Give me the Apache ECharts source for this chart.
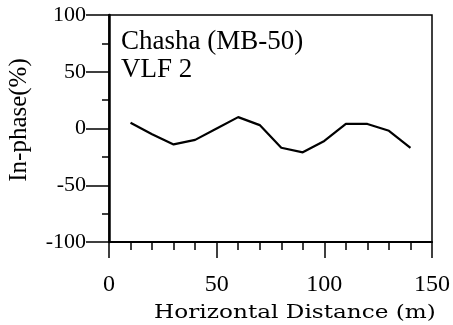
<!DOCTYPE html>
<html>
<head>
<meta charset="utf-8">
<script src="https://cdn.jsdelivr.net/npm/echarts@6/dist/echarts.min.js"></script>
<style>
  html, body { margin: 0; padding: 0; background: #fff; }
  #chart { width: 453px; height: 325px; }
</style>
</head>
<body>
<div id="chart"></div>
<script>
// VLF in-phase profile along the traverse
const distances = [10, 20, 30, 40, 50, 60, 70, 80, 90, 100, 110, 120, 130, 140];
const inPhase   = [5, -5, -14, -10, 0, 10, 3, -17, -21, -11, 4, 4, -2, -17];
const xTicks = [0, 50, 100, 150];
const yTicks = [-100, -50, 0, 50, 100];

const serif = '"Liberation Serif", "Times New Roman", serif';

const chart = echarts.init(document.getElementById('chart'), null, { renderer: 'canvas' });

chart.setOption({
  animation: false,
  backgroundColor: '#fff',
  grid: {
    left: 109, top: 15, right: 20, bottom: 83,
    show: true, borderColor: '#000', borderWidth: 1.5, backgroundColor: 'transparent'
  },
  xAxis: {
    type: 'value',
    min: xTicks[0], max: xTicks[xTicks.length - 1], interval: 50,
    axisLine: { show: true, onZero: false, lineStyle: { color: '#000', width: 2 } },
    axisTick: { show: true, inside: false, length: 16, lineStyle: { color: '#000', width: 1.5 } },
    minorTick: { show: true, splitNumber: 5, length: 8, lineStyle: { color: '#000', width: 1.5 } },
    splitLine: { show: false },
    axisLabel: {
      margin: 31, color: '#000', fontFamily: serif, fontSize: 24,
      formatter: v => xTicks.includes(v) ? String(v) : ''
    }
  },
  yAxis: {
    type: 'value',
    min: yTicks[0], max: yTicks[yTicks.length - 1], interval: 50,
    axisLine: { show: true, onZero: false, lineStyle: { color: '#000', width: 2.5 } },
    axisTick: { show: true, inside: false, length: 23, lineStyle: { color: '#000', width: 1.5 } },
    minorTick: { show: true, splitNumber: 2, length: 7, lineStyle: { color: '#000', width: 1.5 } },
    splitLine: { show: false },
    axisLabel: {
      margin: 23, color: '#000', fontFamily: serif, fontSize: 22,
      formatter: v => yTicks.includes(v) ? String(v) : ''
    }
  },
  series: [{
    type: 'line',
    data: distances.map((d, i) => [d, inPhase[i]]),
    showSymbol: false,
    lineStyle: { color: '#000', width: 2.2 },
    z: 5
  }],
  graphic: [
    {
      type: 'text', x: 121, y: 28,
      style: { text: 'Chasha (MB-50)', fill: '#000', font: '27px ' + serif, verticalAlign: 'top' }
    },
    {
      type: 'text', x: 121, y: 56,
      style: { text: 'VLF 2', fill: '#000', font: '27px ' + serif, verticalAlign: 'top' }
    },
    {
      type: 'text', x: 19, y: 120, rotation: Math.PI / 2,
      style: {
        text: 'In-phase(%)', fill: '#000', font: '25px ' + serif,
        align: 'center', verticalAlign: 'middle'
      }
    },
    {
      // wide-set axis title, stretched horizontally
      type: 'text', x: 295, y: 304, scaleX: 1.22,
      style: {
        text: 'Horizontal Distance (m)', fill: '#000',
        font: '19px "DejaVu Serif", serif',
        align: 'center', verticalAlign: 'top'
      }
    }
  ]
});
</script>
</body>
</html>
